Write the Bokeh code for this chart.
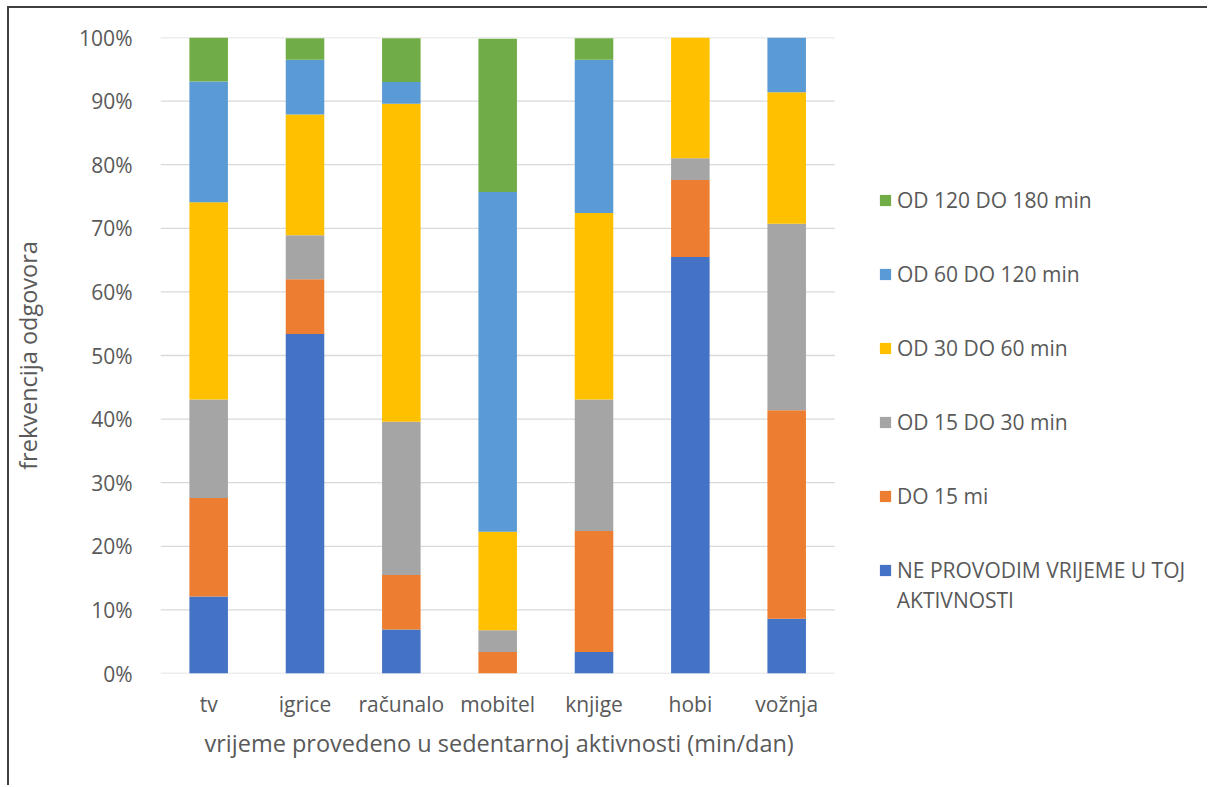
from bokeh.plotting import figure
from bokeh.models import (Legend, LegendItem, PrintfTickFormatter, FixedTicker,
                          ColumnDataSource, Title, Label)
from bokeh.embed import file_html
from bokeh.resources import INLINE

categories = ["tv", "igrice", "računalo", "mobitel", "knjige", "hobi", "vožnja"]
series_names = ["NE PROVODIM VRIJEME U TOJ", "DO 15 mi", "OD 15 DO 30 min",
                "OD 30 DO 60 min", "OD 60 DO 120 min", "OD 120 DO 180 min"]
series_name_continued = "AKTIVNOSTI"
ne_provodim = [12.1, 53.4, 6.9, 0.0, 3.4, 65.5, 8.6]
do_15 = [15.5, 8.6, 8.6, 3.4, 19.0, 12.1, 32.8]
od_15_30 = [15.5, 6.9, 24.1, 3.4, 20.7, 3.4, 29.3]
od_30_60 = [31.0, 19.0, 50.0, 15.5, 29.3, 19.0, 20.7]
od_60_120 = [19.0, 8.6, 3.4, 53.4, 24.1, 0.0, 8.6]
od_120_180 = [6.9, 3.4, 6.9, 24.1, 3.4, 0.0, 0.0]
colors = ["#4472C4", "#ED7D31", "#A5A5A5", "#FFC000", "#5B9BD5", "#70AD47"]
y_ticks = [0, 10, 20, 30, 40, 50, 60, 70, 80, 90, 100]
x_title = "vrijeme provedeno u sedentarnoj aktivnosti (min/dan)"
y_title = "frekvencija odgovora"

n = len(categories)
xpos = list(range(n))
keys = ["s0", "s1", "s2", "s3", "s4", "s5"]
source = ColumnDataSource(dict(x=xpos, s0=ne_provodim, s1=do_15, s2=od_15_30,
                               s3=od_30_60, s4=od_60_120, s5=od_120_180))

FONT = "Open Sans"
TXT = "#595959"

p = figure(x_range=(-0.5, 10.337), y_range=(0, 100), width=1200, height=779,
           output_backend="svg", toolbar_location=None,
           min_border_left=150, min_border_right=5, min_border_top=29, min_border_bottom=114)
p.styles = {"margin-left": "7px", "margin-top": "6px",
            "border-top": "2px solid #404040", "border-left": "2px solid #404040"}

p.outline_line_color = None
p.xgrid.grid_line_color = None
p.ygrid.grid_line_color = None

# horizontal gridlines limited to the category area
p.segment(x0=[-0.5] * len(y_ticks), x1=[n - 0.5] * len(y_ticks), y0=y_ticks, y1=y_ticks,
          line_color="#D9D9D9", line_width=1.3)

rs = p.vbar_stack(keys, x="x", width=0.4, color=colors, line_color=None, source=source)

p.yaxis.ticker = FixedTicker(ticks=y_ticks)
p.yaxis.formatter = PrintfTickFormatter(format="%d%%")
p.xaxis.ticker = FixedTicker(ticks=xpos)
p.xaxis.major_label_overrides = {i: c for i, c in enumerate(categories)}
for ax in (p.xaxis[0], p.yaxis[0]):
    ax.axis_line_color = None
    ax.major_tick_line_color = None
    ax.minor_tick_line_color = None
    ax.major_label_text_font = FONT
    ax.major_label_text_font_size = "21px"
    ax.major_label_text_color = TXT
    ax.axis_label_text_font = FONT
    ax.axis_label_text_font_size = "23.5px"
    ax.axis_label_text_color = TXT
    ax.axis_label_text_font_style = "normal"

p.yaxis.axis_label = y_title
p.yaxis.major_label_standoff = 22
p.yaxis.axis_label_standoff = 32
p.xaxis.major_label_standoff = 10

xt = Title(text=x_title, align="left", offset=44, text_font=FONT, text_font_size="23.5px",
           text_color=TXT, text_font_style="normal", standoff=8)
p.add_layout(xt, "below")

items = [LegendItem(label=series_names[i], renderers=[rs[i]]) for i in range(5, -1, -1)]
legend = Legend(items=items, location=(718, 89), orientation="vertical",
                glyph_width=14, glyph_height=14, label_height=20, spacing=46,
                padding=0, margin=0, border_line_color=None, background_fill_alpha=0,
                label_text_font=FONT, label_text_font_size="21px", label_text_color=TXT,
                label_standoff=5)
p.add_layout(legend, "center")

cont = Label(x=7.143, y=11.5, text=series_name_continued, text_font=FONT,
             text_font_size="21px", text_color=TXT, text_baseline="middle", text_align="left")
p.add_layout(cont)

open("out.html", "w").write(file_html(p, INLINE))
